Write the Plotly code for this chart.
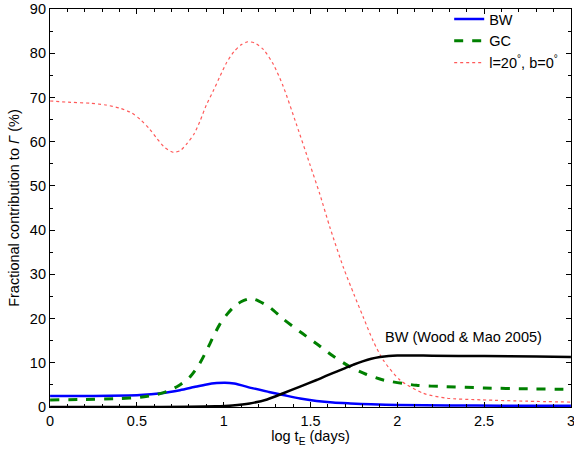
import plotly.graph_objects as go

# log tE (days)
x_red = [0.0, 0.12, 0.23, 0.32, 0.40, 0.47, 0.52, 0.57, 0.614, 0.66, 0.71, 0.75, 0.787, 0.83, 0.864, 0.90, 0.94, 0.98, 1.017, 1.06, 1.10, 1.14, 1.18, 1.23, 1.286, 1.343, 1.42, 1.497, 1.554, 1.612, 1.689, 1.75, 1.804, 1.86, 1.919, 2.015, 2.149, 2.28, 2.49, 2.75, 3.0]
y_red = [69.2, 68.9, 68.7, 68.3, 67.6, 66.5, 65.0, 63.0, 60.8, 58.7, 57.6, 58.0, 59.5, 61.8, 64.7, 68.3, 71.5, 74.9, 77.9, 80.4, 81.9, 82.6, 82.3, 80.8, 77.5, 72.5, 63.8, 54.8, 48.1, 40.6, 31.6, 25.5, 20.3, 15.0, 10.6, 6.1, 3.1, 2.0, 1.6, 1.3, 1.1]

x_gc = [0.0, 0.2, 0.4, 0.52, 0.6, 0.672, 0.74, 0.806, 0.86, 0.902, 0.94, 0.979, 1.02, 1.06, 1.10, 1.14, 1.18, 1.26, 1.343, 1.44, 1.535, 1.63, 1.727, 1.82, 1.919, 2.11, 2.28, 2.5, 2.75, 3.0]
y_gc = [1.6, 1.7, 1.9, 2.2, 2.7, 3.5, 4.8, 6.8, 9.7, 12.8, 15.9, 18.8, 21.0, 22.7, 23.8, 24.4, 24.3, 22.7, 19.9, 17.0, 14.3, 11.5, 9.1, 7.4, 6.1, 4.9, 4.6, 4.3, 4.1, 4.0]

x_bw = [0.0, 0.25, 0.518, 0.64, 0.748, 0.83, 0.902, 0.96, 1.007, 1.06, 1.17, 1.26, 1.343, 1.44, 1.535, 1.63, 1.73, 1.85, 2.0, 2.3, 2.6, 3.0]
y_bw = [2.5, 2.5, 2.7, 3.1, 3.8, 4.5, 5.1, 5.4, 5.5, 5.3, 4.2, 3.4, 2.7, 1.9, 1.35, 1.0, 0.8, 0.6, 0.45, 0.35, 0.3, 0.3]

x_wm = [0.0, 0.5, 0.8, 0.95, 1.05, 1.15, 1.25, 1.343, 1.44, 1.535, 1.6, 1.65, 1.7, 1.75, 1.8, 1.85, 1.9, 1.95, 2.0, 2.2, 2.5, 2.8, 3.0]
y_wm = [0.0, 0.0, 0.05, 0.15, 0.35, 0.8, 1.7, 3.1, 4.6, 6.1, 7.2, 8.0, 8.8, 9.6, 10.3, 10.9, 11.3, 11.55, 11.65, 11.6, 11.5, 11.4, 11.3]

annot_text = "BW (Wood & Mao 2005)"
annot_x, annot_y = 2.38, 15.8

x_ticks = [0, 0.5, 1, 1.5, 2, 2.5, 3]
x_tick_text = ["0", "0.5", "1", "1.5", "2", "2.5", "3"]
y_ticks = [0, 10, 20, 30, 40, 50, 60, 70, 80, 90]

FS = 14.5

fig = go.Figure()
fig.add_trace(go.Scatter(x=x_bw, y=y_bw, mode="lines", name="BW",
                         line=dict(color="#0000ff", width=2.5, shape="spline", smoothing=0.7)))
fig.add_trace(go.Scatter(x=x_gc, y=y_gc, mode="lines", name="GC",
                         line=dict(color="#008000", width=3, dash="dash", shape="spline", smoothing=0.7)))
fig.add_trace(go.Scatter(x=x_red, y=y_red, mode="lines", name="l=20<sup>°</sup>, b=0<sup>°</sup>",
                         line=dict(color="rgba(255,60,60,0.85)", width=1.2, dash="dot", shape="spline", smoothing=0.7)))
fig.add_trace(go.Scatter(x=x_wm, y=y_wm, mode="lines", showlegend=False,
                         line=dict(color="#000000", width=2.5, shape="spline", smoothing=0.7)))

fig.add_annotation(x=annot_x, y=annot_y, text=annot_text, showarrow=False,
                   font=dict(size=FS, color="black"))

axis_common = dict(showline=True, linecolor="black", linewidth=1.2, mirror="ticks",
                   ticks="inside", ticklen=5, tickcolor="black", showgrid=False, zeroline=False,
                   tickfont=dict(size=FS, color="black"), automargin=False,
                   ticklabeloverflow="allow")
fig.update_xaxes(range=[-0.0005, 3.0005], tickvals=x_ticks, ticktext=x_tick_text,
                 minor=dict(dtick=0.1, tick0=0, ticks="inside", ticklen=3, tickcolor="black"),
                 title=dict(text="log t<sub>E</sub> (days)", font=dict(size=FS, color="black"), standoff=0),
                 **axis_common)
fig.update_yaxes(range=[-0.01, 90.01], tickvals=y_ticks,
                 minor=dict(dtick=5, tick0=0, ticks="inside", ticklen=3, tickcolor="black"),
                 title=dict(text="Fractional contribution to <i>Γ</i> (%)", font=dict(size=FS, color="black"), standoff=6),
                 **axis_common)

fig.update_layout(
    width=574, height=450,
    margin=dict(l=50, r=3, t=7, b=43),
    paper_bgcolor="white", plot_bgcolor="white",
    font=dict(family="Liberation Sans, Arial, sans-serif", size=FS, color="black"),
    legend=dict(x=0.985, y=1.015, xanchor="right", yanchor="top", bgcolor="rgba(255,255,255,0)",
                font=dict(size=FS), tracegroupgap=0),
    showlegend=True,
)

fig.write_html("out.html")
